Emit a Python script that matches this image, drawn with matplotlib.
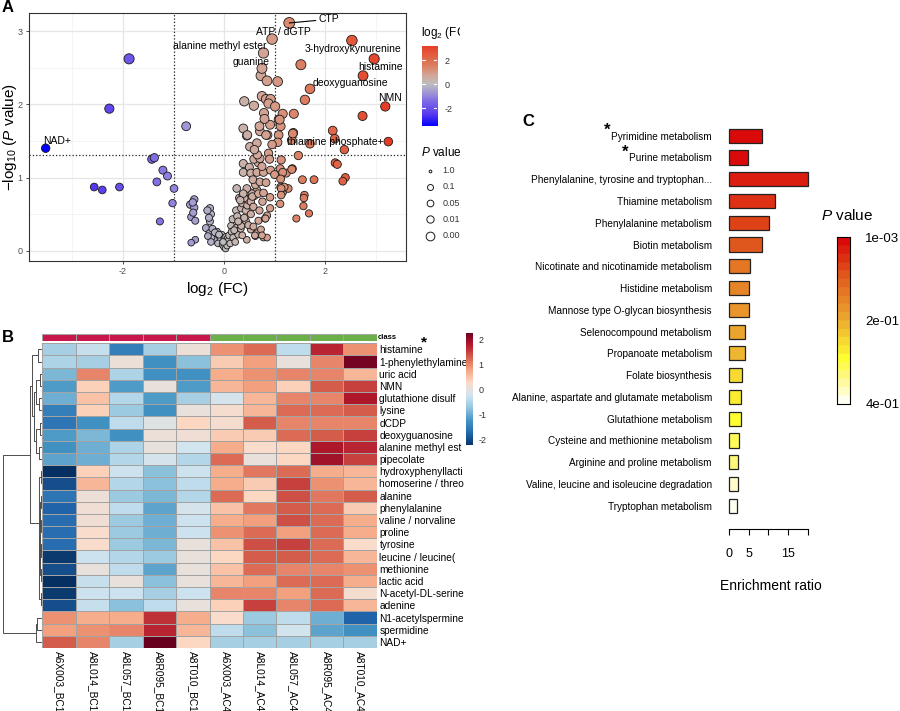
import numpy as np
import matplotlib
matplotlib.use('Agg')
import matplotlib.pyplot as plt
from matplotlib.colors import LinearSegmentedColormap, ListedColormap, Normalize

plt.rcParams['font.family'] = ['Liberation Sans', 'DejaVu Sans']
plt.rcParams['mathtext.fontset'] = 'custom'
plt.rcParams['mathtext.rm'] = 'Liberation Sans'
plt.rcParams['mathtext.it'] = 'Liberation Sans:italic'
plt.rcParams['mathtext.default'] = 'regular'
plt.rcParams['axes.unicode_minus'] = False

# ---------------- panel A : volcano data (log2 FC, -log10 p) ----------------
fc_neg = [-3.53, -1.88, -2.27, -0.75, -1.43, -1.38, -1.21, -1.12, -1.33, -0.99,
          -1.02, -1.27, -2.57, -2.41, -2.07, -0.59, -0.67, -0.59, -0.62, -0.65,
          -0.57, -0.61, -0.57, -0.65, -0.28, -0.26, -0.28, -0.33, -0.30, -0.36,
          -0.29, -0.23, -0.16, -0.14, -0.09, -0.07, -0.05, -0.20, -0.25, -0.12,
          -0.03, -0.18, -0.10, -0.32, -0.26]
nlp_neg = [1.40, 2.62, 1.94, 1.70, 1.25, 1.27, 1.10, 1.02, 0.94, 0.85,
           0.65, 0.40, 0.87, 0.83, 0.87, 0.70, 0.63, 0.59, 0.66, 0.46,
           0.41, 0.52, 0.15, 0.11, 0.58, 0.50, 0.40, 0.55, 0.45, 0.31,
           0.24, 0.30, 0.20, 0.26, 0.17, 0.16, 0.22, 0.15, 0.18, 0.10,
           0.08, 0.25, 0.22, 0.20, 0.12]

fc_zero = [0.01, 0.04, 0.07, 0.09, 0.00, 0.03, 0.06, 0.12, -0.02, 0.10]
nlp_zero = [0.17, 0.19, 0.17, 0.14, 0.05, 0.03, 0.07, 0.10, 0.12, 0.21]

fc_low = [0.14, 0.15, 0.17, 0.18, 0.24, 0.24, 0.26, 0.28, 0.33, 0.34,
          0.34, 0.36, 0.30, 0.37, 0.25, 0.43, 0.43, 0.46, 0.46, 0.53,
          0.53, 0.53, 0.65, 0.68, 0.73, 0.76, 0.85, 0.65, 0.20, 0.22,
          0.28, 0.40, 0.48, 0.58, 0.60, 0.70, 0.62, 0.78, 0.85, 0.40,
          0.50, 0.55, 0.62, 0.45, 0.38, 0.32, 0.56, 0.68, 0.78, 0.81,
          0.58, 0.61, 0.75, 0.45, 0.36]
nlp_low = [0.34, 0.26, 0.43, 0.18, 0.31, 0.55, 0.47, 0.22, 0.30, 0.34,
           0.58, 0.65, 0.72, 0.76, 0.85, 0.55, 0.41, 0.62, 0.70, 0.67,
           0.50, 0.29, 0.24, 0.41, 0.29, 0.67, 0.48, 0.83, 0.28, 0.12,
           0.40, 0.45, 0.35, 0.60, 0.75, 0.55, 0.20, 0.18, 0.18, 0.72,
           0.80, 0.78, 0.90, 0.85, 0.78, 0.69, 0.74, 0.78, 0.79, 0.44,
           0.33, 0.21, 0.21, 0.15, 0.21]

fc_mid = [0.38, 0.50, 0.38, 0.53, 0.65, 0.78, 0.57, 0.71, 0.83, 0.68,
          0.59, 0.71, 0.66, 0.88, 0.51, 0.65, 0.45, 0.71, 0.86, 1.08,
          1.06, 0.38, 0.70, 0.91, 1.08, 1.12, 0.46, 0.83, 0.40, 0.59,
          0.79, 0.75, 0.83, 0.92, 0.88, 1.01, 0.73, 0.85, 0.75, 0.78,
          0.95, 1.29, 0.80, 0.95, 0.60, 0.90, 0.75, 0.92]
nlp_mid = [1.19, 1.14, 1.07, 1.06, 1.07, 1.07, 0.97, 0.94, 0.93, 1.20,
           1.25, 1.26, 1.31, 1.33, 1.42, 1.47, 1.57, 1.63, 1.58, 1.58,
           1.48, 1.67, 1.70, 1.72, 1.79, 1.70, 1.58, 1.58, 2.04, 1.98,
           1.88, 2.11, 2.07, 2.07, 2.01, 1.97, 2.39, 2.32, 2.49, 2.70,
           2.89, 3.11, 1.80, 1.45, 1.38, 1.25, 1.15, 1.10]

fc_right = [1.06, 1.52, 1.70, 1.60, 1.16, 1.38, 1.10, 1.37, 1.34, 1.36,
            1.70, 1.47, 1.35, 1.13, 1.11, 1.23, 1.00, 1.16, 1.34, 1.12,
            1.12, 1.16, 1.27, 1.19, 1.13, 1.13, 1.11, 0.91, 0.91, 0.82,
            1.55, 1.78, 1.59, 1.58, 1.57, 1.68, 1.43, 2.53, 2.97, 2.75,
            3.19, 3.25, 2.74, 2.15, 2.19, 2.38, 2.20, 2.24, 2.40, 2.35]
nlp_right = [2.31, 2.54, 2.21, 2.06, 1.87, 1.87, 1.79, 1.61, 1.51, 1.60,
             1.46, 1.30, 1.12, 1.24, 1.12, 1.06, 1.04, 1.07, 1.11, 0.98,
             0.87, 0.80, 0.85, 0.87, 0.85, 0.76, 0.64, 0.73, 0.58, 0.44,
             0.97, 0.97, 0.76, 0.72, 0.61, 0.51, 0.44, 2.87, 2.62, 2.39,
             1.97, 1.49, 1.84, 1.64, 1.53, 1.38, 1.20, 1.18, 1.00, 0.95]

lab_names = ['CTP', 'ATP / dGTP', 'alanine methyl ester', 'guanine', '3-hydroxykynurenine',
             'histamine', 'deoxyguanosine', 'NMN', 'thiamine phosphate+', 'NAD+']
lab_x = [1.87, 1.18, -0.08, 0.53, 2.56, 3.09, 2.51, 3.29, 2.20, -3.30]
lab_y = [3.16, 2.99, 2.80, 2.58, 2.76, 2.51, 2.29, 2.08, 1.49, 1.50]
ctp_point = (1.29, 3.11)

p_legend = ['1.0', '0.1', '0.05', '0.01', '0.001']
p_legend_diam = [2.7, 6.0, 6.7, 7.3, 8.7]

# ---------------- panel B : heatmap ----------------
hm_rows = ['histamine', '1-phenylethylamine', 'uric acid', 'NMN', 'glutathione disulf',
           'lysine', 'dCDP', 'deoxyguanosine', 'alanine methyl est', 'pipecolate',
           'hydroxyphenyllacti', 'homoserine / threo', 'alanine', 'phenylalanine',
           'valine / norvaline', 'proline', 'tyrosine', 'leucine / leucine(', 'methionine',
           'lactic acid', 'N-acetyl-DL-serine', 'adenine', 'N1-acetylspermine',
           'spermidine', 'NAD+']
hm_cols = ['A6X003_BC1', 'A8L014_BC1', 'A8L057_BC1', 'A8R095_BC1', 'A8T010_BC1',
           'A6X003_AC4', 'A8L014_AC4', 'A8L057_AC4', 'A8R095_AC4', 'A8T010_AC4']
hm_class = [0, 0, 0, 0, 0, 1, 1, 1, 1, 1]
hm_values = [
    [-0.6, -0.35, -1.5, -0.6, 0.05, 0.9, 1.2, -0.4, 1.7, 0.9],
    [-0.55, -0.6, 0.05, -1.3, -0.8, 0.4, 0.8, 0.0, 1.0, 2.2],
    [-0.9, 1.0, -0.55, -1.3, -1.3, 0.7, 0.9, 1.0, 1.0, 0.6],
    [-1.2, 0.35, -1.2, 0.0, -1.2, 0.6, 0.8, 0.35, 1.3, 1.5],
    [-1.0, 0.5, -0.5, -1.2, -0.6, -0.2, 0.6, 1.0, 1.0, 1.8],
    [-1.5, 0.35, -0.7, -1.3, 0.0, 0.15, 0.6, 1.2, 1.2, 1.3],
    [-1.6, -1.3, -0.4, -0.1, 0.3, 0.15, 1.3, 1.0, 1.0, 1.0],
    [-1.2, -0.9, -1.3, 0.05, 0.1, 0.4, 0.4, 1.2, 1.3, 1.5],
    [-1.3, -1.0, -0.55, 0.0, -0.25, 0.7, 0.2, 0.3, 1.8, 1.7],
    [-1.1, -1.0, -0.5, -0.2, -0.5, 1.2, 0.0, 0.3, 1.9, 1.5],
    [-2.3, 0.35, -0.3, -0.8, -0.3, 0.7, 1.1, 1.2, 0.7, 0.6],
    [-2.0, 0.6, -0.5, -0.8, -0.4, 0.7, 0.4, 1.5, 0.9, 0.6],
    [-1.6, 0.05, -0.7, -0.9, -0.5, 1.2, 0.3, 1.4, 1.1, 1.3],
    [-1.8, 0.1, -0.4, -1.1, -0.2, 0.5, 1.1, 1.3, 1.2, 0.4],
    [-1.7, 0.1, -0.7, -1.0, -0.3, 0.7, 0.8, 1.4, 1.2, 0.7],
    [-1.7, 0.2, -0.7, -1.0, -0.3, 0.9, 1.2, 0.8, 1.2, 0.7],
    [-1.7, 0.2, -0.7, -0.9, 0.0, 0.5, 1.4, 1.5, 1.2, 0.2],
    [-2.2, -0.3, -0.5, -0.7, 0.0, 0.3, 1.3, 1.3, 1.2, 0.6],
    [-2.0, 0.0, -0.4, -1.1, 0.0, 0.5, 1.2, 1.0, 1.0, 0.9],
    [-2.3, -0.35, 0.0, -0.8, 0.0, 0.6, 0.8, 1.2, 1.2, 0.7],
    [-2.2, -0.3, -0.3, -0.6, -0.3, 1.0, 1.0, 0.8, 1.2, 0.15],
    [-2.0, -0.35, -0.8, -0.4, 0.0, 0.35, 1.5, 1.0, 1.2, 0.6],
    [0.9, 0.7, 0.7, 1.6, 0.7, 0.2, -0.7, -0.4, -1.0, -1.8],
    [0.8, 0.9, 1.0, 1.7, 0.6, -0.4, -0.8, -0.25, -1.1, -1.3],
    [1.3, 1.0, -0.6, 2.3, 0.3, -0.6, -0.6, -0.6, -0.6, -0.6],
]
# row dendrogram merges: (left id, right id, height); new clusters get ids 25, 26, ...
row_merges = [
    (10, 11, 0.03), (12, 13, 0.03), (14, 15, 0.025), (16, 17, 0.03), (18, 19, 0.03),
    (20, 21, 0.035), (26, 27, 0.05), (28, 29, 0.05), (31, 32, 0.065), (33, 30, 0.075),
    (25, 34, 0.09),
    (0, 1, 0.12), (2, 3, 0.06), (4, 5, 0.08), (37, 38, 0.15), (6, 7, 0.07), (8, 9, 0.08),
    (40, 41, 0.16), (39, 42, 0.2), (36, 43, 0.25), (44, 35, 0.32),
    (22, 23, 0.13), (46, 24, 0.16), (45, 47, 1.0),
]

# ---------------- panel C : pathway enrichment ----------------
pathways = ['Pyrimidine metabolism', 'Purine metabolism',
            'Phenylalanine, tyrosine and tryptophan...', 'Thiamine metabolism',
            'Phenylalanine metabolism', 'Biotin metabolism',
            'Nicotinate and nicotinamide metabolism', 'Histidine metabolism',
            'Mannose type O-glycan biosynthesis', 'Selenocompound metabolism',
            'Propanoate metabolism', 'Folate biosynthesis',
            'Alanine, aspartate and glutamate metabolism', 'Glutathione metabolism',
            'Cysteine and methionine metabolism', 'Arginine and proline metabolism',
            'Valine, leucine and isoleucine degradation', 'Tryptophan metabolism']
enrich = [8.3, 4.7, 20.2, 11.6, 10.1, 8.3, 5.4, 5.1, 5.1, 4.1, 3.9, 3.2, 2.9, 2.9, 2.6, 2.3, 2.1, 2.0]
pvals = [0.001, 0.017, 0.033, 0.053, 0.065, 0.089, 0.121, 0.145, 0.169, 0.2, 0.22, 0.248,
         0.268, 0.296, 0.312, 0.34, 0.364, 0.388]
starred = ['Pyrimidine metabolism', 'Purine metabolism']

W, H = 900, 711


def box(x0, y0, x1, y1):
    # pixel box measured from the top-left corner -> figure fraction rect
    return [x0 / W, 1 - y1 / H, (x1 - x0) / W, (y1 - y0) / H]


fig = plt.figure(figsize=(9, 7.11), dpi=100)

# ======================= A =======================
fc = np.array(fc_neg + fc_zero + fc_low + fc_mid + fc_right)
nlp = np.array(nlp_neg + nlp_zero + nlp_low + nlp_mid + nlp_right)

fc_cmap = LinearSegmentedColormap.from_list('fc', [
    (0.0, '#0000FF'), (0.143, '#5A3CF0'), (0.286, '#7C66E6'), (0.393, '#9F95D8'),
    (0.5, '#BEBEBE'), (0.607, '#D3A596'), (0.714, '#DC8062'), (0.857, '#E35A3C'),
    (1.0, '#E8301C')])
fc_norm = Normalize(-3.5, 3.5)

axA = fig.add_axes(box(29, 12.7, 406, 261))
axA.set_xlim(-3.86, 3.6)
axA.set_ylim(-0.14, 3.25)
axA.set_xticks([-2, 0, 2])
axA.set_yticks([0, 1, 2, 3])
axA.set_xticks([-3, -1, 1, 3], minor=True)
axA.set_yticks([0.5, 1.5, 2.5], minor=True)
axA.grid(which='major', color='#E6E6E6', lw=0.9)
axA.grid(which='minor', color='#F0F0F0', lw=0.5)
axA.set_axisbelow(True)
axA.tick_params(which='minor', length=0)
axA.tick_params(which='major', length=2.5, width=0.6, color='#333333',
                labelsize=6.5, labelcolor='#4D4D4D', pad=2)
for s in axA.spines.values():
    s.set_color('#333333')
    s.set_linewidth(0.8)
for v in (-1, 1):
    axA.axvline(v, ls=':', color='#222222', lw=0.9, zorder=2)
axA.axhline(-np.log10(0.05), ls=':', color='#222222', lw=0.9, zorder=2)

sizes = ((6.5 + 1.4 * nlp) * 0.72) ** 2
axA.scatter(fc, nlp, c=fc, cmap=fc_cmap, norm=fc_norm, s=sizes,
            edgecolors='#1A1A1A', linewidths=0.6, zorder=3)

for name, tx, ty in zip(lab_names, lab_x, lab_y):
    if name == 'CTP':
        axA.annotate(name, xy=ctp_point, xytext=(tx, ty), fontsize=7.5, va='center',
                     ha='left', arrowprops=dict(arrowstyle='-', lw=0.8, color='black',
                                                shrinkA=0, shrinkB=0), zorder=4)
    else:
        axA.text(tx, ty, name, fontsize=7.5, ha='center', va='center', zorder=4)

axA.set_xlabel('log$_2$ (FC)', fontsize=11, labelpad=3)
axA.set_ylabel('\u2212log$_{10}$ ($\\it{P}$ value)', fontsize=11, va='center')
axA.yaxis.set_label_coords(-0.05, 0.5)

# colour bar for log2 FC
caxA = fig.add_axes(box(421.7, 45.7, 437.3, 126))
grad = np.linspace(-3.47, 3.22, 256).reshape(-1, 1)
caxA.imshow(grad, aspect='auto', origin='lower', cmap=fc_cmap, norm=fc_norm,
            extent=[0, 1, -3.47, 3.22])
caxA.set_xticks([])
caxA.yaxis.tick_right()
caxA.set_yticks([-2, 0, 2])
caxA.tick_params(axis='y', length=0, labelsize=6.5, labelcolor='#333333', pad=5)
for s in caxA.spines.values():
    s.set_visible(False)
for v in (-2, 0, 2):
    caxA.axhline(v, xmin=0, xmax=0.2, color='white', lw=0.8)
    caxA.axhline(v, xmin=0.8, xmax=1, color='white', lw=0.8)

# legend area (clipped at the panel edge like the original)
lax = fig.add_axes(box(415, 15, 460, 250))
lax.set_xlim(415, 460)
lax.set_ylim(250, 15)
lax.axis('off')
t1 = lax.text(421, 33, 'log$_2$ (FC)', fontsize=8.5, ha='left', va='center')
t2 = lax.text(421, 152, '$\\it{P}$ value', fontsize=8.5, ha='left', va='center')
texts = [t1, t2]
for i, (lbl, d) in enumerate(zip(p_legend, p_legend_diam)):
    yy = 170.7 + 16.2 * i
    lax.scatter([430], [yy], s=(d * 0.72) ** 2, facecolors='white', edgecolors='#1A1A1A',
                linewidths=0.7, clip_on=False)
    texts.append(lax.text(442.7, yy, lbl, fontsize=6.5, color='#333333', ha='left', va='center'))
for t in texts:
    t.set_clip_on(True)
    t.set_clip_box(lax.bbox)

fig.text(2 / W, 1 - 7.5 / H, 'A', fontsize=12, fontweight='bold', ha='left', va='center')

# ======================= B =======================
hm = np.array(hm_values)
rdbu10 = ['#053061', '#2166AC', '#4393C3', '#92C5DE', '#D1E5F0',
          '#FDDBC7', '#F4A582', '#D6604D', '#B2182B', '#67001F']
hm_cmap = LinearSegmentedColormap.from_list('hm', rdbu10)
hm_norm = Normalize(-2.3, 2.3)

axH = fig.add_axes(box(42.3, 343.3, 376.7, 648))
axH.pcolormesh(np.arange(len(hm_cols) + 1), np.arange(len(hm_rows) + 1), hm,
               cmap=hm_cmap, norm=hm_norm, edgecolors='#A3A3A3', linewidth=0.6)
axH.set_xlim(0, len(hm_cols))
axH.set_ylim(len(hm_rows), 0)
axH.yaxis.tick_right()
axH.set_yticks(np.arange(len(hm_rows)) + 0.5, hm_rows, fontsize=7.3)
axH.set_xticks(np.arange(len(hm_cols)) + 0.5, hm_cols, rotation=270, fontsize=7.3)
axH.tick_params(length=0, pad=2)
for s in axH.spines.values():
    s.set_visible(False)

axCl = fig.add_axes(box(42.3, 334, 376.7, 341.3))
axCl.pcolormesh(np.arange(len(hm_cols) + 1), [0, 1], [hm_class],
                cmap=ListedColormap(['#C8174A', '#6AAF4A']), vmin=0, vmax=1,
                edgecolors='#A3A3A3', linewidth=0.6)
axCl.set_xlim(0, len(hm_cols))
axCl.set_xticks([])
axCl.set_yticks([])
for s in axCl.spines.values():
    s.set_visible(False)
fig.text(378 / W, 1 - 337.5 / H, 'class', fontsize=5.5, fontweight='bold', ha='left', va='center')
fig.text(424 / W, 1 - 342 / H, '*', fontsize=11, fontweight='bold', ha='center', va='center')

# row dendrogram
axD = fig.add_axes(box(0, 343.3, 42.3, 648))
axD.set_xlim(1.07, 0)
axD.set_ylim(len(hm_rows), 0)
axD.axis('off')
pos = {i: i + 0.5 for i in range(len(hm_rows))}
hgt = {i: 0.0 for i in range(len(hm_rows))}
for k, (a, b, h) in enumerate(row_merges):
    cid = len(hm_rows) + k
    axD.plot([hgt[a], h, h, hgt[b]], [pos[a], pos[a], pos[b], pos[b]],
             color='#4D4D4D', lw=0.7)
    pos[cid] = (pos[a] + pos[b]) / 2
    hgt[cid] = h

caxB = fig.add_axes(box(466, 332.7, 473, 445))
gradB = np.linspace(-2.23, 2.27, 256).reshape(-1, 1)
caxB.imshow(gradB, aspect='auto', origin='lower', cmap=hm_cmap, norm=hm_norm,
            extent=[0, 1, -2.23, 2.27])
caxB.set_xticks([])
caxB.yaxis.tick_right()
caxB.set_yticks([-2, -1, 0, 1, 2])
caxB.tick_params(axis='y', length=0, labelsize=6.5, labelcolor='#333333', pad=4)
for s in caxB.spines.values():
    s.set_visible(False)

fig.text(2 / W, 1 - 337.5 / H, 'B', fontsize=12, fontweight='bold', ha='left', va='center')

# ======================= C =======================
cmapC = LinearSegmentedColormap.from_list('heat', [
    (0.0, '#DA0A0A'), (0.22, '#E05A1E'), (0.5, '#ECAC30'), (0.74, '#FFFF33'),
    (0.85, '#FFF880'), (1.0, '#FFFFF0')], N=20)
normC = Normalize(0.001, 0.4)

axC = fig.add_axes(box(729.3, 120, 811.6, 529.3))
ypos = np.arange(len(pathways))
bars = axC.barh(ypos, enrich, height=0.65, color=cmapC(normC(pvals)),
                edgecolor='#222222', linewidth=0.9)
for b in bars:
    b.set_clip_on(False)
axC.set_xlim(0, 21)
axC.set_ylim(18.08, -0.72)
axC.set_yticks(ypos, pathways, fontsize=7.2)
axC.tick_params(axis='y', length=0, pad=12.5)
for side in ('left', 'top', 'right'):
    axC.spines[side].set_visible(False)
axC.spines['bottom'].set_bounds(0, 20)
axC.spines['bottom'].set_linewidth(0.8)
axC.set_xticks([0, 5, 10, 15, 20], ['0', '5', '', '15', ''])
axC.tick_params(axis='x', length=4.3, width=0.8, labelsize=9, pad=9)
axC.set_xlabel('Enrichment ratio', fontsize=10, labelpad=14)

caxC = fig.add_axes(box(837.3, 237.3, 850, 404))
gradC = np.linspace(0.001, 0.4, 256).reshape(-1, 1)
caxC.imshow(gradC, aspect='auto', origin='upper', cmap=cmapC, norm=normC,
            extent=[0, 1, 0.4, 0.001])
caxC.set_xticks([])
caxC.yaxis.tick_right()
caxC.set_yticks([0.001, 0.2005, 0.4], ['1e-03', '2e-01', '4e-01'])
caxC.tick_params(axis='y', length=0, labelsize=9.5, pad=11)
for s in caxC.spines.values():
    s.set_linewidth(0.8)
fig.text(821 / W, 1 - 215 / H, '$\\it{P}$ value', fontsize=11, ha='left', va='center')

fig.text(522 / W, 1 - 121 / H, 'C', fontsize=12, fontweight='bold', ha='left', va='center')

# asterisks in front of the significant pathways
fig.canvas.draw()
renderer = fig.canvas.get_renderer()
for lbl in axC.get_yticklabels():
    if lbl.get_text() in starred:
        bb = lbl.get_window_extent(renderer)
        fig.text((bb.x0 - 1) / W, (bb.y1 + 1) / H, '*', fontsize=12, fontweight='bold',
                 ha='right', va='center')

fig.savefig('out.png', dpi=100)
